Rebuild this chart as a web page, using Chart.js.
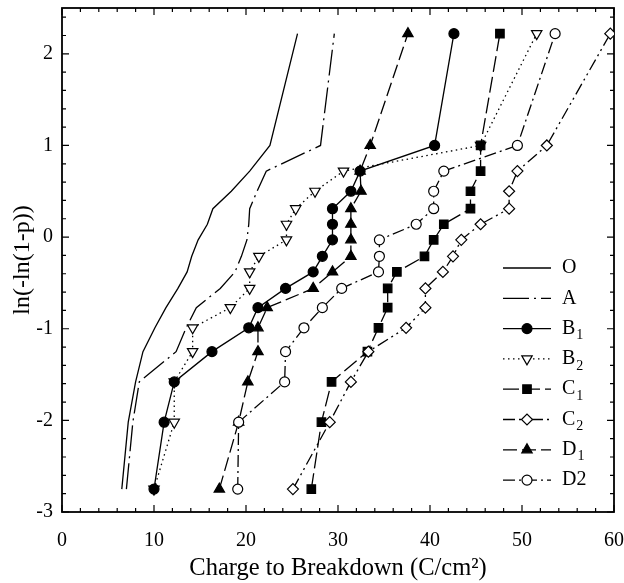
<!DOCTYPE html>
<html>
<head>
<meta charset="utf-8">
<script src="https://cdn.jsdelivr.net/npm/chart.js@4.4.1/dist/chart.umd.min.js"></script>
<style>
  html, body { margin: 0; padding: 0; background: #fff; }
  canvas { display: block; }
</style>
</head>
<body>
<canvas id="chart" width="624" height="583"></canvas>
<script>
// Weibull plotting positions, ln(-ln(1-p)), shared by every sample (16 failures each)
const probLevels = [-2.75, -2.02, -1.58, -1.25, -0.99, -0.77, -0.56, -0.38, -0.21, -0.03, 0.14, 0.31, 0.5, 0.72, 1.0, 2.22];

// charge to breakdown (C/cm2) for each sample, lowest to highest
const chargeO  = [6.5, 7.2, 8.0, 8.8, 10.1, 11.3, 12.6, 13.6, 14.1, 14.8, 15.8, 16.4, 18.4, 20.4, 22.6, 25.6];
const chargeA  = [7.0, 7.7, 8.4, 12.4, 13.5, 14.6, 17.2, 18.8, 19.5, 20.1, 20.3, 20.4, 21.2, 22.2, 28.1, 29.6];
const chargeB1 = [10.0, 11.1, 12.2, 16.3, 20.3, 21.3, 24.3, 27.3, 28.3, 29.4, 29.4, 29.4, 31.4, 32.4, 40.5, 42.6];
const chargeB2 = [10.0, 12.2, 12.2, 14.2, 14.2, 18.3, 20.4, 20.4, 21.4, 24.4, 24.4, 25.4, 27.5, 30.6, 45.5, 51.6];
const chargeC1 = [27.1, 28.2, 29.3, 33.2, 34.4, 35.4, 35.4, 36.4, 39.4, 40.4, 41.5, 44.4, 44.4, 45.5, 45.5, 47.6];
const chargeC2 = [25.1, 29.1, 31.4, 33.3, 37.4, 39.5, 39.5, 41.4, 42.5, 43.4, 45.5, 48.6, 48.6, 49.5, 52.7, 59.6];
const chargeD1 = [17.1, 19.2, 20.2, 21.3, 21.3, 22.3, 27.3, 29.4, 31.4, 31.4, 31.4, 31.4, 32.5, 32.4, 33.5, 37.6];
const chargeD2 = [19.1, 19.2, 24.2, 24.3, 26.3, 28.3, 30.4, 34.4, 34.5, 34.5, 38.5, 40.4, 40.4, 41.5, 49.5, 53.6];

const xTicks = [0, 10, 20, 30, 40, 50, 60];
const yTicks = [-3, -2, -1, 0, 1, 2];

const SERIF = '"Liberation Serif", "Times New Roman", serif';

function toPoints(xs) {
  return xs.map((x, i) => ({ x: x, y: probLevels[i] }));
}

// legend text: base letter + optional subscript
const series = [
  { name: 'O',  sub: '',  data: chargeO,  dash: [],               style: false,      fill: null,   radius: 0,   order: 7 },
  { name: 'A',  sub: '',  data: chargeA,  dash: [26, 5, 2, 5],    style: false,      fill: null,   radius: 0,   order: 6 },
  { name: 'B',  sub: '1', data: chargeB1, dash: [],               style: 'circle',   fill: '#000', radius: 5,   order: 2 },
  { name: 'B',  sub: '2', data: chargeB2, dash: [1.5, 3.5],       style: 'triangle', fill: '#fff', radius: 6,   order: 5, rot: 180 },
  { name: 'C',  sub: '1', data: chargeC1, dash: [16, 5],          style: 'rect',     fill: '#000', radius: 6,   order: 3 },
  { name: 'C',  sub: '2', data: chargeC2, dash: [12, 4, 2, 4, 2, 4], style: 'rectRot', fill: '#fff', radius: 5.5, order: 1 },
  { name: 'D',  sub: '1', data: chargeD1, dash: [14, 5],          style: 'triangle', fill: '#000', radius: 6,   order: 4 },
  { name: 'D2', sub: '',  data: chargeD2, dash: [12, 4, 2, 4],    style: 'circle',   fill: '#fff', radius: 5,   order: 0 },
];

const datasets = series.map(s => ({
  label: s.name + s.sub,
  data: toPoints(s.data),
  showLine: true,
  borderColor: '#000',
  borderWidth: 1.3,
  borderDash: s.dash,
  pointStyle: s.style || 'circle',
  pointRadius: s.radius,
  pointRotation: s.rot || 0,
  pointBackgroundColor: s.fill || '#000',
  pointBorderColor: '#000',
  pointBorderWidth: 1.2,
  order: s.order,
}));

// white page, plot frame and inward tick marks on all four sides
const framePlugin = {
  id: 'frame',
  beforeDraw(chart) {
    const ctx = chart.ctx;
    ctx.save();
    ctx.fillStyle = '#fff';
    ctx.fillRect(0, 0, chart.width, chart.height);
    ctx.restore();
  },
  beforeDatasetsDraw(chart) {
    const { ctx, chartArea: a, scales: { x, y } } = chart;
    ctx.save();
    ctx.strokeStyle = '#000';
    ctx.lineWidth = 1.8;
    ctx.strokeRect(a.left, a.top, a.right - a.left, a.bottom - a.top);
    ctx.lineWidth = 1.2;
    ctx.beginPath();
    for (let k = 0; k <= 30; k++) {
      const px = x.getPixelForValue(k * 2);
      const len = k % 5 === 0 ? 7 : 4;
      ctx.moveTo(px, a.bottom); ctx.lineTo(px, a.bottom - len);
      ctx.moveTo(px, a.top);    ctx.lineTo(px, a.top + len);
    }
    for (let k = -15; k <= 12; k++) {
      const py = y.getPixelForValue(k / 5);
      const len = k % 5 === 0 ? 7 : 4;
      ctx.moveTo(a.left, py);  ctx.lineTo(a.left + len, py);
      ctx.moveTo(a.right, py); ctx.lineTo(a.right - len, py);
    }
    ctx.stroke();
    ctx.restore();
  },
};

// legend box inside the plot, lower right
const legendPlugin = {
  id: 'innerLegend',
  afterDatasetsDraw(chart) {
    const { ctx, chartArea: a } = chart;
    const x0 = a.right - 111, x1 = a.right - 63, tx = a.right - 52;
    const rowTop = a.top + 260, rowGap = 30.3;
    ctx.save();
    series.forEach((s, i) => {
      const yy = rowTop + i * rowGap;
      ctx.strokeStyle = '#000';
      ctx.lineWidth = 1.3;
      ctx.setLineDash(s.dash);
      ctx.beginPath();
      ctx.moveTo(x0, yy); ctx.lineTo(x1, yy);
      ctx.stroke();
      ctx.setLineDash([]);
      if (s.style) {
        ctx.fillStyle = s.fill;
        ctx.lineWidth = 1.2;
        Chart.helpers.drawPoint(ctx, { pointStyle: s.style, radius: s.radius, rotation: s.rot || 0, borderWidth: 1.2 }, (x0 + x1) / 2, yy);
      }
      ctx.fillStyle = '#000';
      ctx.textBaseline = 'middle';
      ctx.textAlign = 'left';
      ctx.font = '20px ' + SERIF;
      ctx.fillText(s.name, tx, yy);
      if (s.sub) {
        const w = ctx.measureText(s.name).width;
        ctx.font = '14px ' + SERIF;
        ctx.fillText(s.sub, tx + w + 1, yy + 7);
      }
    });
    ctx.restore();
  },
};

new Chart(document.getElementById('chart'), {
  type: 'scatter',
  data: { datasets: datasets },
  plugins: [framePlugin, legendPlugin],
  options: {
    responsive: false,
    animation: false,
    layout: { padding: { top: 8, right: 10, left: 0, bottom: 0 } },
    plugins: { legend: { display: false }, tooltip: { enabled: false } },
    scales: {
      x: {
        type: 'linear',
        min: 0,
        max: 60,
        afterBuildTicks: s => { s.ticks = xTicks.map(v => ({ value: v })); },
        afterFit: s => { s.height = 71; s.paddingLeft = 0; s.paddingRight = 0; },
        grid: { display: false, drawTicks: false },
        border: { display: false },
        ticks: { padding: 17, color: '#000', maxRotation: 0, font: { family: SERIF, size: 20 } },
        title: {
          display: true,
          text: 'Charge to Breakdown (C/cm²)',
          color: '#000',
          font: { family: SERIF, size: 24.5 },
          padding: { top: 0, bottom: 0 },
        },
      },
      y: {
        type: 'linear',
        min: -3,
        max: 2.5,
        afterBuildTicks: s => { s.ticks = yTicks.map(v => ({ value: v })); },
        afterFit: s => { s.width = 62; s.paddingTop = 0; s.paddingBottom = 0; },
        grid: { display: false, drawTicks: false },
        border: { display: false },
        ticks: { padding: 9, color: '#000', font: { family: SERIF, size: 20 } },
        title: {
          display: true,
          text: 'ln(-ln(1-p))',
          color: '#000',
          font: { family: SERIF, size: 24 },
          padding: { top: 8, bottom: 0 },
        },
      },
    },
  },
});
</script>
</body>
</html>
